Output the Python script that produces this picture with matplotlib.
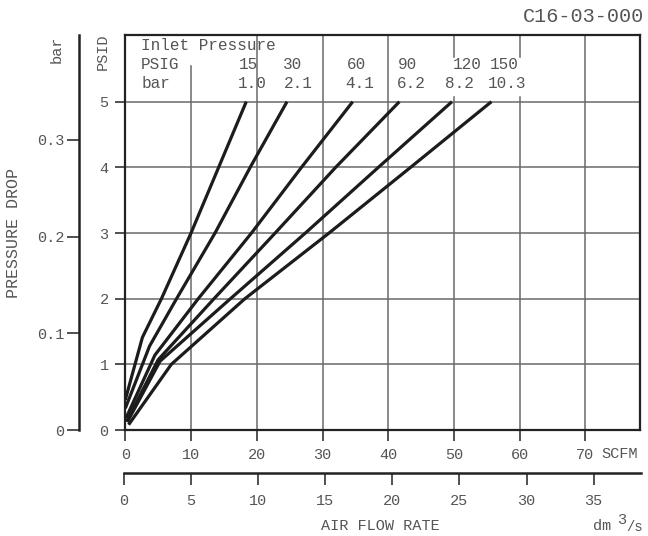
import matplotlib
matplotlib.use("Agg")
import matplotlib.pyplot as plt

plt.rcParams['font.family'] = ['Liberation Mono', 'DejaVu Sans']

# pressure drop curves (SCFM vs PSID)
scfm_15 = [0.0, 2.6, 5.5, 10.0, 14.2, 18.4]
psid_15 = [0.46, 1.41, 2.0, 3.0, 4.0, 5.0]
scfm_30 = [0.0, 3.7, 7.8, 13.65, 19.0, 24.6]
psid_30 = [0.33, 1.28, 2.0, 3.0, 4.0, 5.0]
scfm_60 = [0.1, 4.5, 11.1, 19.2, 26.8, 34.6]
psid_60 = [0.18, 1.14, 2.0, 3.0, 4.0, 5.0]
scfm_90 = [0.2, 5.0, 13.5, 22.8, 32.0, 41.7]
psid_90 = [0.13, 1.07, 2.0, 3.0, 4.0, 5.0]
scfm_120 = [0.3, 5.3, 16.0, 27.4, 38.5, 49.7]
psid_120 = [0.12, 1.05, 2.0, 3.0, 4.0, 5.0]
scfm_150 = [0.5, 7.0, 18.2, 31.0, 43.4, 55.7]
psid_150 = [0.08, 1.0, 2.0, 3.0, 4.0, 5.0]

psig_labels = ['15', '30', '60', '90', '120', '150']
bar_labels = ['1.0', '2.1', '4.1', '6.2', '8.2', '10.3']

scfm_ticks = [0, 10, 20, 30, 40, 50, 60, 70]
psid_ticks = [0, 1, 2, 3, 4, 5]
bar_ticks = [0, 0.1, 0.2, 0.3]
dm3_ticks = [0, 5, 10, 15, 20, 25, 30, 35]

W, H = 648, 536
txt = '#555555'
ink = '#1c1c1c'
grid = '#6a6a6a'


def fx(x):
    return x / W


def fy(y):
    return 1 - y / H


fig = plt.figure(figsize=(6.48, 5.36), dpi=100)

# main chart
ax = fig.add_axes([fx(125.3), fy(430), fx(640) - fx(125.3), fy(34.7) - fy(430)])
ax.set_xlim(0, 78.3)
ax.set_ylim(0, 6.02)

ymax = 6.02
for x in scfm_ticks[1:]:
    if x == 10:
        ax.axvline(x, 0, 5.54 / ymax, color=grid, lw=1.1, zorder=1)
    elif x in (50, 60):
        ax.axvline(x, 0, 5.07 / ymax, color=grid, lw=1.1, zorder=1)
        ax.axvline(x, 5.68 / ymax, 1, color=grid, lw=1.1, zorder=1)
    else:
        ax.axvline(x, color=grid, lw=1.1, zorder=1)
for y in psid_ticks[1:]:
    ax.axhline(y, color=grid, lw=1.1, zorder=1)

curves = [(scfm_15, psid_15), (scfm_30, psid_30), (scfm_60, psid_60),
          (scfm_90, psid_90), (scfm_120, psid_120), (scfm_150, psid_150)]
for xs, ys in curves:
    ax.plot(xs, ys, color=ink, lw=2.3, solid_capstyle='butt', zorder=3)

for s in ['left', 'bottom', 'top', 'right']:
    ax.spines[s].set_linewidth(1.6)
    ax.spines[s].set_color('#222222')

ax.set_xticks(scfm_ticks)
ax.set_yticks(psid_ticks)
ax.tick_params(axis='x', direction='out', length=8, width=1.1, pad=5,
               labelsize=11, labelcolor=txt, color='#222222')
ax.tick_params(axis='y', direction='out', length=7, width=1.1, pad=5,
               labelsize=11, labelcolor=txt, color='#222222')

# inlet pressure labels
ax.text(2.4, 5.86, 'Inlet Pressure', fontsize=11.5, color=txt, va='center', ha='left')
ax.text(2.4, 5.57, 'PSIG', fontsize=11.5, color=txt, va='center', ha='left')
ax.text(2.4, 5.28, 'bar', fontsize=11.5, color=txt, va='center', ha='left')
psig_x = [18.8, 25.4, 35.1, 42.9, 52.0, 57.6]
bar_x = [19.3, 26.3, 35.6, 43.5, 50.9, 58.1]
for i in range(6):
    ax.text(psig_x[i], 5.57, psig_labels[i], fontsize=11.5, color=txt, va='center', ha='center')
    ax.text(bar_x[i], 5.28, bar_labels[i], fontsize=11.5, color=txt, va='center', ha='center')

# bar axis on the left
axb = fig.add_axes([fx(79.3), fy(430), 0.002, fy(34.7) - fy(430)])
axb.set_ylim(0, 0.4088)
axb.patch.set_visible(False)
for s in ['bottom', 'top', 'right']:
    axb.spines[s].set_visible(False)
axb.spines['left'].set_linewidth(1.8)
axb.spines['left'].set_color('#222222')
axb.set_xticks([])
axb.set_yticks(bar_ticks)
axb.set_yticklabels(['0', '0.1', '0.2', '0.3'])
axb.tick_params(axis='y', direction='out', length=8.6, width=1.1, pad=2,
                labelsize=11, labelcolor=txt, color='#222222')

# dm3/s axis at the bottom
axd = fig.add_axes([fx(123.5), fy(473.3), fx(640.7) - fx(123.5), 0.002])
axd.set_xlim(0, 38.5)
axd.patch.set_visible(False)
for s in ['left', 'top', 'right']:
    axd.spines[s].set_visible(False)
axd.spines['bottom'].set_linewidth(1.8)
axd.spines['bottom'].set_color('#222222')
axd.set_yticks([])
axd.set_xticks(dm3_ticks)
axd.tick_params(axis='x', direction='out', length=8.6, width=1.1, pad=6,
                labelsize=11, labelcolor=txt, color='#222222')

# axis titles and annotations
fig.text(fx(601), fy(454), 'SCFM', fontsize=11, color=txt, va='center', ha='left')
fig.text(fx(380), fy(526), 'AIR FLOW RATE', fontsize=11, color=txt, va='center', ha='center')
fig.text(fx(593), fy(526), 'dm', fontsize=11, color=txt, va='center', ha='left')
fig.text(fx(622), fy(520), '3', fontsize=11, color=txt, va='center', ha='center')
fig.text(fx(626), fy(527), '/s', fontsize=10, color=txt, va='center', ha='left')
fig.text(fx(103), fy(52), 'PSID', fontsize=11, color=txt, va='center', ha='center', rotation=90)
fig.text(fx(57), fy(49), 'bar', fontsize=11, color=txt, va='center', ha='center', rotation=90)
fig.text(fx(14), fy(233), 'PRESSURE DROP', fontsize=12, color=txt, va='center', ha='center', rotation=90)
fig.text(fx(644), fy(17), 'C16-03-000', fontsize=14.5, color=txt, va='center', ha='right')

fig.savefig('out.png', dpi=100)
